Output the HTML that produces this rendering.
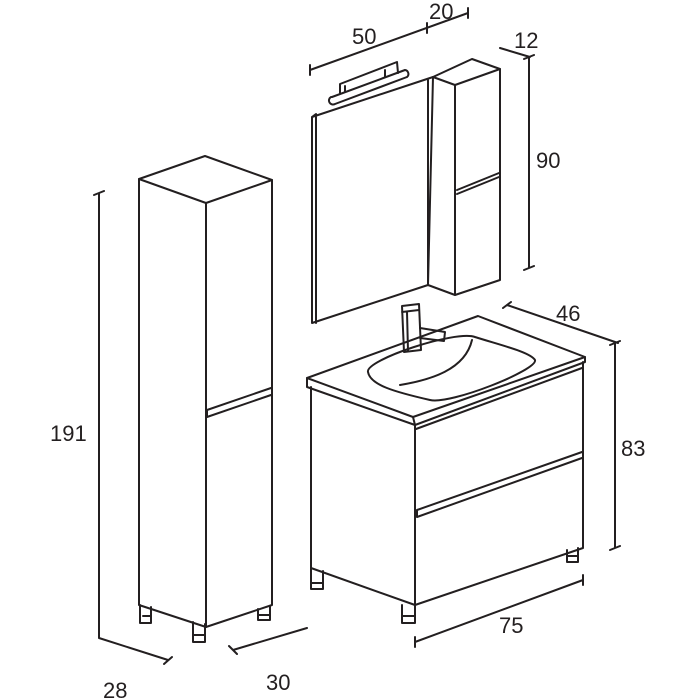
<!DOCTYPE html>
<html><head><meta charset="utf-8"><style>html,body{margin:0;padding:0;background:#fff}svg{display:block}text{font-family:"Liberation Sans Narrow","Liberation Sans",sans-serif;font-size:22px;fill:#231f20}</style></head>
<body>
<svg width="700" height="700" viewBox="0 0 700 700" xmlns="http://www.w3.org/2000/svg">
<g fill="none" stroke="#231f20" stroke-width="2" stroke-linejoin="round" stroke-linecap="round">
<path d="M139,179 L205,156 L272,180 L206,203 Z"/>
<path d="M139,179 L139,605 L206,627 L272,605 L272,180"/>
<path d="M206,203 L206,627"/>
<path d="M207,410 L271,388 M207,417 L271,395 M207,410 L207,417"/>
<path d="M140,605 v18 h11 v-16 M143,616 h8"/>
<path d="M193,622 v20 h12 v-18 M193,635 h12"/>
<path d="M258,609 v11 h12 v-14 M258,615 h12"/>
<path d="M99,193 L99,638 M94,195 L104,191 M99,638 L168,660 M164,664 L172,657"/>
<path d="M233,650 L307,628 M229,646 L237,654"/>
<path d="M312,117 L433,77 M312,117 L312,323 L428,285 L428,80 M316,117 L316,323 M312,117 L316,114"/>
<path d="M433,77 L472,59 L500,69 L455,85 Z"/>
<path d="M433,77 L428,285 L455,295 L500,280 L500,69 M455,85 L455,295"/>
<path d="M457,190 L499,173 M457,194 L499,177"/>
<path d="M332,97 L405,70 M335,104 L407,77 M331,97 a4,4 0 0 0 4,7 M405,70 a4,4 0 0 1 2,7"/>
<path d="M340,93 L340,84 L397,62 L398,73 M345,92 L345,86 M385,77 L385,70"/>
<path d="M310,70 L468,13 M310,65 L310,75 M427,23 L427,33 M468,8 L468,18"/>
<path d="M500,48 L530,57 M529,57 L529,268 M524,59 L534,55 M524,270 L534,266"/>
<path d="M307,378 L478,316 L585,357 L413,417 Z"/>
<path d="M307,378 L307,387 L415,425 L585,362 L585,357 M413,417 L415,425"/>
<path d="M311,387 L311,568 L415,605 L583,548 L583,362 M415,425 L415,605"/>
<path d="M416,429 L582,368"/>
<path d="M417,510 L582,452 M417,517 L582,458 M417,510 L417,517"/>
<path d="M368,372 C365,360 455,330 475,337 C500,345 530,352 535,360 C538,370 450,405 430,400 C395,392 370,385 368,372 Z"/>
<path d="M472,340 C465,370 430,380 400,385"/>
<path d="M402,306 L419,304 L421,350 L404,352 Z M402,312 L419,310 M407,312 L408,351"/>
<path d="M420,328 L445,332 L444,341 L420,338"/>
<path d="M311,568 v21 h12 v-18 M311,583 h12"/>
<path d="M402,605 v18 h13 v-18 M402,616 h13"/>
<path d="M567,550 v12 h11 v-14 M567,556 h11"/>
<path d="M507,305 L618,343 M503,308 L511,302 M615,343 L615,548 M610,345 L620,341 M610,550 L620,546"/>
<path d="M415,642 L583,580 M415,637 L415,647 M583,575 L583,585"/>
</g>
<text x="50" y="441">191</text>
<text x="103" y="698">28</text>
<text x="266" y="690">30</text>
<text x="352" y="44">50</text>
<text x="429" y="19">20</text>
<text x="514" y="48">12</text>
<text x="536" y="168">90</text>
<text x="556" y="321">46</text>
<text x="621" y="456">83</text>
<text x="499" y="633">75</text>
</svg>
</body></html>
